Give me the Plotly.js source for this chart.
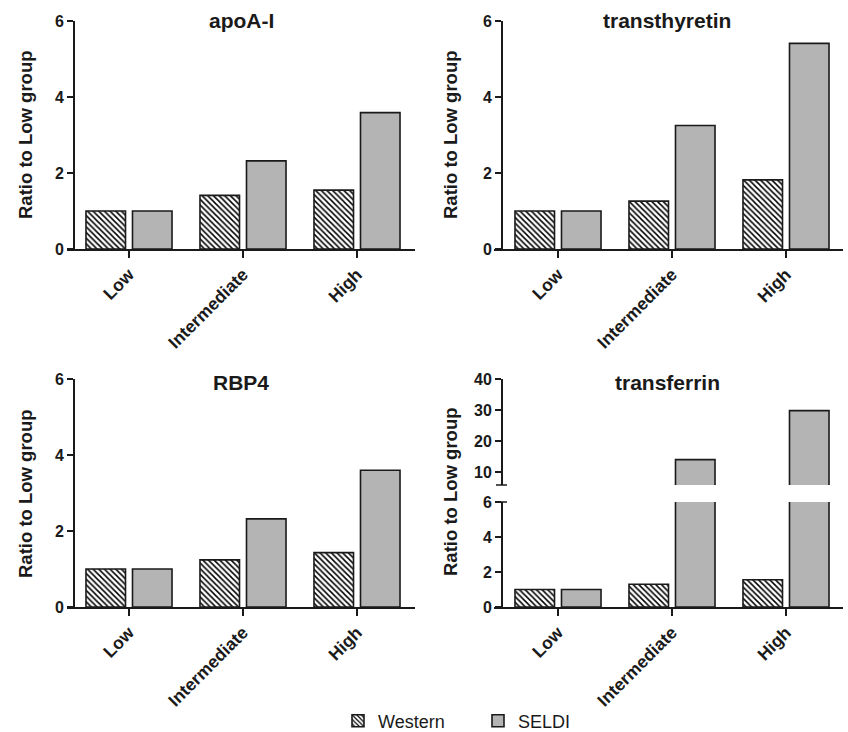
<!DOCTYPE html>
<html>
<head>
<meta charset="utf-8">
<script src="https://cdn.plot.ly/plotly-3.0.1.min.js"></script>
<style>html,body{margin:0;padding:0;background:#fff;}#chart{width:848px;height:732px;}</style>
</head>
<body>
<div id="chart"></div>
<script>
// ---- data ----
const categories = ['Low', 'Intermediate', 'High'];
const seriesNames = ['Western', 'SELDI'];
const panelTitles = ['apoA-I', 'transthyretin', 'RBP4', 'transferrin'];
const apoWestern = [1.0, 1.41, 1.55];
const apoSeldi = [1.0, 2.32, 3.59];
const ttrWestern = [1.0, 1.26, 1.82];
const ttrSeldi = [1.0, 3.25, 5.41];
const rbpWestern = [1.0, 1.24, 1.43];
const rbpSeldi = [1.0, 2.32, 3.6];
const tfWestern = [1.0, 1.3, 1.56];
const tfSeldi = [1.0, 14.0, 29.8];
const yTicks = [0, 2, 4, 6];
const tfUpperTicks = [10, 20, 30, 40];
const yTitle = 'Ratio to Low group';

// ---- layout helpers ----
const W = 848, H = 732;
const px = x => x / W;
const py = y => 1 - y / H;
const FONT = 'Liberation Sans, Arial, Helvetica, sans-serif';
const INK = '#1a1a1a';
const GREY = '#b4b4b4';

function westernTrace(y, xa, ya, legend) {
  return {
    type: 'bar', name: seriesNames[0], x: categories, y: y, xaxis: xa, yaxis: ya,
    showlegend: legend, legendgroup: 'w',
    marker: {
      color: '#ffffff',
      line: {color: INK, width: 1.6},
      pattern: {shape: '\\', fgcolor: '#000000', bgcolor: '#ffffff', size: 4, solidity: 0.38}
    },
    hoverinfo: 'x+y'
  };
}
function seldiTrace(y, xa, ya, legend) {
  return {
    type: 'bar', name: seriesNames[1], x: categories, y: y, xaxis: xa, yaxis: ya,
    showlegend: legend, legendgroup: 's',
    marker: {color: GREY, line: {color: INK, width: 1.6}},
    hoverinfo: 'x+y'
  };
}

const data = [
  westernTrace(apoWestern, 'x', 'y', true), seldiTrace(apoSeldi, 'x', 'y', true),
  westernTrace(ttrWestern, 'x2', 'y2', false), seldiTrace(ttrSeldi, 'x2', 'y2', false),
  westernTrace(rbpWestern, 'x3', 'y3', false), seldiTrace(rbpSeldi, 'x3', 'y3', false),
  westernTrace(tfWestern, 'x4', 'y4', false), seldiTrace(tfSeldi, 'x4', 'y4', false),
  westernTrace(tfWestern, 'x5', 'y5', false), seldiTrace(tfSeldi, 'x5', 'y5', false)
];

function xAxis(left, right, catPos0, anchor, visible) {
  const sp = 114;
  return {
    type: 'category', categoryarray: categories, categoryorder: 'array',
    domain: [px(left), px(right)],
    range: [-(catPos0 - left) / sp, 2 + (right - (catPos0 + 2 * sp)) / sp],
    anchor: anchor, visible: visible,
    showline: true, linecolor: INK, linewidth: 1.5,
    ticks: 'outside', ticklen: 7, tickwidth: 1.5, tickcolor: INK,
    tickangle: -45,
    tickfont: {family: FONT, size: 17.5, weight: 'bold', color: INK},
    showgrid: false, zeroline: false, fixedrange: true
  };
}
function yAxis(top, bottom, range, ticks, pos) {
  return {
    domain: [py(bottom), py(top)], range: range,
    anchor: 'free', position: px(pos),
    showline: true, linecolor: INK, linewidth: 1.5,
    ticks: 'outside', ticklen: 6, tickwidth: 1.5, tickcolor: INK,
    tickmode: 'array', tickvals: ticks,
    tickfont: {family: FONT, size: 16, weight: 'bold', color: INK},
    showgrid: false, zeroline: false, fixedrange: true
  };
}

const titlePos = [[241, 20], [667, 20], [241, 382], [667, 382]];
const ytitlePos = [[25, 135], [450, 135], [25, 494], [450, 492]];
const annotations = [];
panelTitles.forEach((t, i) => {
  annotations.push({
    text: t, xref: 'paper', yref: 'paper', x: px(titlePos[i][0]), y: py(titlePos[i][1]),
    xanchor: 'center', yanchor: 'middle', showarrow: false,
    font: {family: FONT, size: 21, weight: 'bold', color: INK}
  });
  annotations.push({
    text: yTitle, xref: 'paper', yref: 'paper', x: px(ytitlePos[i][0]), y: py(ytitlePos[i][1]),
    xanchor: 'center', yanchor: 'middle', showarrow: false, textangle: -90,
    font: {family: FONT, size: 18.5, weight: 'bold', color: INK}
  });
});

const capLine = {color: INK, width: 1.5};
const shapes = [
  {type: 'line', xref: 'paper', yref: 'paper', x0: px(496), x1: px(507), y0: py(485), y1: py(485), line: capLine},
  {type: 'line', xref: 'paper', yref: 'paper', x0: px(501), x1: px(507), y0: py(502), y1: py(502), line: capLine}
];

const layout = {
  width: W, height: H,
  margin: {l: 0, r: 0, t: 0, b: 0, autoexpand: false},
  paper_bgcolor: '#ffffff', plot_bgcolor: 'rgba(0,0,0,0)',
  barmode: 'group', bargap: 0.184, bargroupgap: 0.15,
  font: {family: FONT, color: INK},
  showlegend: true,
  legend: {
    orientation: 'h', x: px(338), xanchor: 'left', y: py(721), yanchor: 'middle',
    font: {family: FONT, size: 18, color: INK}, itemwidth: 30, traceorder: 'normal',
    entrywidth: 95, bgcolor: 'rgba(0,0,0,0)'
  },
  xaxis: xAxis(67, 415, 129, 'y', true),
  yaxis: yAxis(21, 249, [0, 6], yTicks, 73),
  xaxis2: xAxis(494, 843, 558, 'y2', true),
  yaxis2: yAxis(21, 249, [0, 6], yTicks, 501),
  xaxis3: xAxis(67, 415, 129, 'y3', true),
  yaxis3: yAxis(379, 607, [0, 6], yTicks, 73),
  xaxis4: xAxis(494, 843, 558, 'y4', true),
  yaxis4: yAxis(502, 607, [0, 6], yTicks, 501),
  xaxis5: xAxis(494, 843, 558, 'y5', false),
  yaxis5: yAxis(379, 485, [5.8, 40], tfUpperTicks, 501),
  annotations: annotations,
  shapes: shapes
};

Plotly.newPlot('chart', data, layout, {displayModeBar: false, staticPlot: true});
</script>
</body>
</html>
